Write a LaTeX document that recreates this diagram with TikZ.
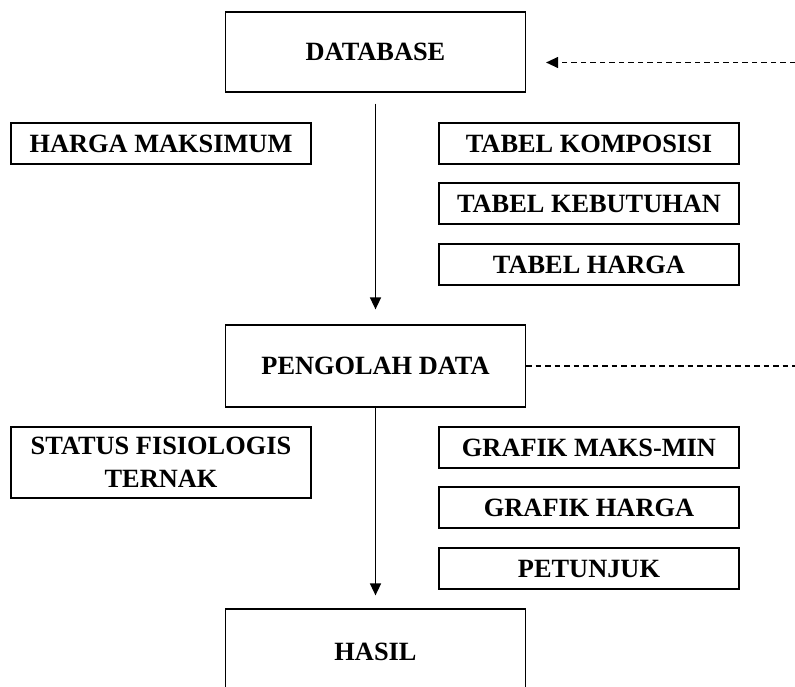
\documentclass[tikz,border=0pt]{standalone}
\usepackage{fontspec}
\setmainfont{Liberation Serif}
\usetikzlibrary{arrows.meta}

\begin{document}
\begin{tikzpicture}[
        >={Triangle[length=0.24cm, width=0.22cm]},
        mainbox/.style={draw, line width=0.7pt, minimum width=6cm, minimum height=1.6cm, font=\bfseries\fontsize{15}{19}\selectfont},
        sidebox/.style={draw, line width=0.7pt, minimum width=6cm, minimum height=0.82cm, inner sep=0pt, align=center, font=\bfseries\fontsize{15}{19}\selectfont},
        flow/.style={->, line width=0.9pt},
        feed/.style={line width=0.7pt, dash pattern=on 0.11cm off 0.08cm}
    ]
        \useasboundingbox (0, 0) rectangle (15.9, -13.74);
        \clip (0, 0) rectangle (15.9, -13.74);

        % Main flow
        \node[mainbox] (database) at (7.51, -1.04) {DATABASE};
        \node[mainbox, minimum height=1.64cm] (pengolah-data) at (7.51, -7.32) {PENGOLAH DATA};
        \node[mainbox, minimum height=1.7cm] (hasil) at (7.51, -13.03) {HASIL};

        \draw[flow, shorten <=0.22cm, shorten >=0.3cm] (database) -- (pengolah-data);
        \draw[flow, shorten >=0.26cm] (pengolah-data) -- (hasil);

        % Outside links
        \coordinate (database-in) at (15.9, -1.25);
        \coordinate (pengolah-out) at (15.9, -7.32);
        \draw[feed, ->, shorten >=0.4cm] (database-in) -- (database-in -| database.east);
        \draw[feed] (pengolah-data) -- (pengolah-out);

        % Inputs and tables of the database
        \node[sidebox] (harga-maksimum) at (3.22, -2.87) {HARGA MAKSIMUM};
        \node[sidebox] (tabel-komposisi) at (11.78, -2.87) {TABEL KOMPOSISI};
        \node[sidebox] (tabel-kebutuhan) at (11.78, -4.07) {TABEL KEBUTUHAN};
        \node[sidebox] (tabel-harga) at (11.78, -5.29) {TABEL HARGA};

        % Inputs and outputs of the data processing
        \node[sidebox, minimum height=1.42cm] (status-fisiologis) at (3.22, -9.25) {STATUS FISIOLOGIS\\TERNAK};
        \node[sidebox] (grafik-maks-min) at (11.78, -8.95) {GRAFIK MAKS-MIN};
        \node[sidebox] (grafik-harga) at (11.78, -10.15) {GRAFIK HARGA};
        \node[sidebox] (petunjuk) at (11.78, -11.37) {PETUNJUK};
    \end{tikzpicture}
\end{document}
